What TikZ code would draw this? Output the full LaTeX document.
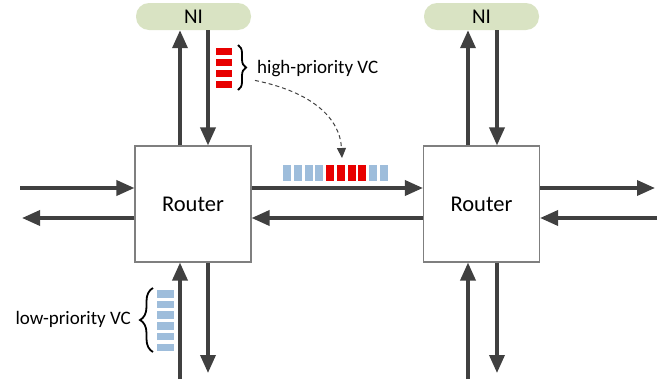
\documentclass[tikz,border=0pt]{standalone}
\usepackage{fontspec}
\setmainfont{Carlito}
\usetikzlibrary{arrows.meta,decorations.pathreplacing,calc}
\definecolor{arr}{HTML}{404040}
\definecolor{nigreen}{HTML}{D9E3C3}
\definecolor{vcblue}{HTML}{9EBDDB}
\definecolor{vcred}{HTML}{E80000}
\definecolor{boxgray}{HTML}{7F7F7F}
\begin{document}
\begin{tikzpicture}[x=1pt,y=-1pt,
  router/.style={draw=boxgray, line width=1.1pt, fill=white, minimum width=116pt, minimum height=116pt, inner sep=0pt, font=\fontsize{22.5}{26}\selectfont},
  ni/.style={rounded corners=13pt, fill=nigreen, minimum width=115pt, minimum height=27pt, inner sep=0pt, font=\fontsize{21}{25}\selectfont},
  link/.style={draw=arr, line width=3.5pt, -{Triangle[length=18pt,width=15pt]}},
  lab/.style={font=\fontsize{19}{22}\selectfont, inner sep=0pt},
  bvc/.style={fill=vcblue},
  rvc/.style={fill=vcred},
  vcbrace/.style={decorate, draw=black, line width=1.8pt}]
\useasboundingbox (0,0) rectangle (665,381);
% nodes
\node[router] (r1) at (193,204) {Router};
\node[router] (r2) at (481.5,204) {Router};
\node[ni] (n1) at (193.5,16.5) {NI};
\node[ni] (n2) at (481.5,16.5) {NI};
% helper coordinates
\coordinate (xa) at (180,0);
\coordinate (xb) at (208,0);
\coordinate (xc) at (468,0);
\coordinate (xd) at (497,0);
\coordinate (yi) at (0,188);
\coordinate (yo) at (0,218);
\coordinate (lin) at (20,188);
\coordinate (lout) at (22,218);
\coordinate (rout) at (655,188);
\coordinate (rin) at (657,218);
\coordinate (b1) at (180,379);
\coordinate (b2) at (208,373);
\coordinate (b3) at (468,379);
\coordinate (b4) at (497,373);
% vertical links
\draw[link] (r1.north -| xa) -- (n1.south -| xa);
\draw[link] (n1.south -| xb) -- (r1.north -| xb);
\draw[link] (r2.north -| xc) -- (n2.south -| xc);
\draw[link] (n2.south -| xd) -- (r2.north -| xd);
\draw[link] (b1) -- (r1.south -| b1);
\draw[link] (r1.south -| b2) -- (b2);
\draw[link] (b3) -- (r2.south -| b3);
\draw[link] (r2.south -| b4) -- (b4);
% horizontal links
\draw[link] (lin) -- (r1.west |- lin);
\draw[link] (r1.west |- lout) -- (lout);
\draw[link] (r1.east |- yi) -- (r2.west |- yi);
\draw[link] (r2.west |- yo) -- (r1.east |- yo);
\draw[link] (r2.east |- rout) -- (rout);
\draw[link] (rin) -- (r2.east |- rin);
% high-priority VC buffer
\foreach \i in {0,1,2,3} \fill[rvc] (216,48+10.9*\i) rectangle +(16,7);
\draw[vcbrace, decoration={brace, amplitude=8pt}] (238,45) -- (238,90);
\node[lab, anchor=west] (hp) at (257,69) {high-priority VC};
% low-priority VC buffer
\foreach \i in {0,...,5} \fill[bvc] (157,290+10.7*\i) rectangle +(17,7.5);
\draw[vcbrace, decoration={brace, amplitude=13pt}] (153,352) -- (153,288);
\node[lab, anchor=east] (lp) at (131,319) {low-priority VC};
% link buffer
\foreach \i/\c in {0/bvc,1/bvc,2/bvc,3/bvc,4/rvc,5/rvc,6/rvc,7/rvc,8/bvc,9/bvc}
  \fill[\c] (283+10.75*\i,165) rectangle +(8,16);
% dashed pointer
\coordinate (ds) at ($(hp.south west)+(-2,3)$);
\coordinate (de) at (342,158);
\draw[arr, line width=1pt, dash pattern=on 4pt off 3pt, -{Triangle[length=10pt,width=9pt]}]
  (ds) .. controls (312,92) and (340,118) .. (de);
\end{tikzpicture}
\end{document}
